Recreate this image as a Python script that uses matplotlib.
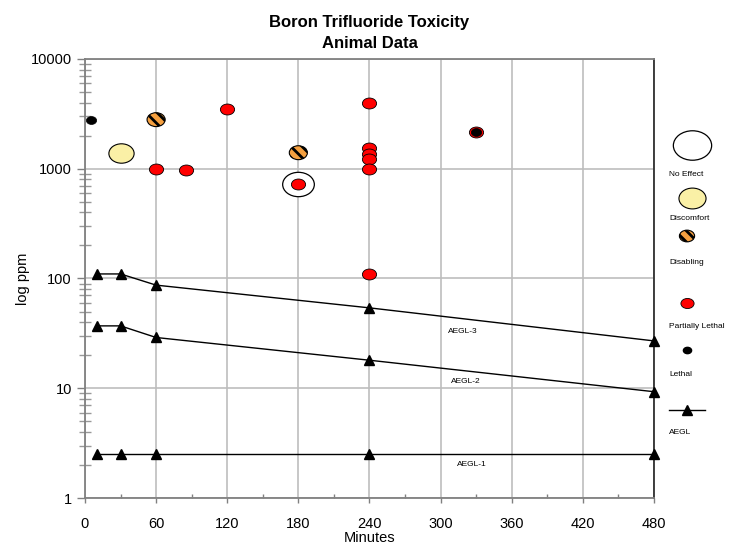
import matplotlib

matplotlib.use("Agg")
import matplotlib.pyplot as plt
import matplotlib.ticker as mticker
from matplotlib.path import Path
from matplotlib.transforms import Affine2D

plt.rcParams["font.family"] = ["Liberation Sans", "DejaVu Sans"]
plt.rcParams["hatch.linewidth"] = 2.0

# --- data --------------------------------------------------------------------
no_effect_min = [180]
no_effect_ppm = [730]
discomfort_min = [30]
discomfort_ppm = [1400]
disabling_min = [60, 180]
disabling_ppm = [2800, 1400]
partial_min = [60, 85, 120, 180, 240, 240, 240, 240, 240, 240, 330]
partial_ppm = [1000, 970, 3500, 730, 3950, 1560, 1350, 1220, 1000, 110, 2150]
lethal_min = [5, 330]
lethal_ppm = [2800, 2150]

aegl_min = [10, 30, 60, 240, 480]
aegl1 = [2.5, 2.5, 2.5, 2.5, 2.5]
aegl2 = [37, 37, 29, 18, 9.3]
aegl3 = [110, 110, 87, 54, 27]

x_ticks = [0, 60, 120, 180, 240, 300, 360, 420, 480]
y_ticks = [1, 10, 100, 1000, 10000]

YELLOW = "#FAF0A6"
ORANGE = "#F5A040"
RED = "#FF0000"
GRID = "#BDBDBD"

# wide ellipse marker, like the original charting tool
ELLIPSE = Path.unit_circle().transformed(Affine2D().scale(1.3, 1.0))


def draw_groups(ax, scale=1.0):
    ax.scatter(no_effect_min, no_effect_ppm, s=520 * scale, marker=ELLIPSE,
               facecolor="white", edgecolor="black", linewidth=0.9, zorder=3)
    ax.scatter(discomfort_min, discomfort_ppm, s=330 * scale, marker=ELLIPSE,
               facecolor=YELLOW, edgecolor="black", linewidth=0.8, zorder=3)
    ax.scatter(disabling_min, disabling_ppm, s=170 * scale, marker=ELLIPSE,
               facecolor=ORANGE, edgecolor="black", hatch="\\\\\\",
               linewidth=0.8, zorder=4)
    ax.scatter(partial_min, partial_ppm, s=105 * scale, marker=ELLIPSE,
               facecolor=RED, edgecolor="black", linewidth=0.6, zorder=5)
    ax.scatter(lethal_min, lethal_ppm, s=55 * scale, marker=ELLIPSE,
               facecolor="black", edgecolor="black", linewidth=0.5, zorder=6)


fig = plt.figure(figsize=(7.32, 5.46), dpi=100)
ax = fig.add_axes([0.1161, 0.0879, 0.7773, 0.8041])

for series in (aegl1, aegl2, aegl3):
    ax.plot(aegl_min, series, color="black", linewidth=1.0, marker="^",
            markersize=7.5, zorder=4, clip_on=False)
draw_groups(ax)

for x, y, s in ((319, 33, "AEGL-3"), (321, 11.5, "AEGL-2"), (326, 2.0, "AEGL-1")):
    ax.text(x, y, s, fontsize=6, ha="center", va="center", zorder=3,
            bbox=dict(facecolor="white", edgecolor="none", pad=1.5))

ax.set_yscale("log")
ax.set_xlim(0, 480)
ax.set_ylim(1, 10000)
ax.set_xticks(x_ticks)
ax.set_yticks(y_ticks)
ax.xaxis.set_minor_locator(mticker.MultipleLocator(30))
ax.yaxis.set_major_formatter(mticker.FuncFormatter(lambda v, _: f"{v:g}"))
ax.yaxis.set_minor_locator(mticker.LogLocator(base=10, subs=range(2, 10)))
ax.yaxis.set_minor_formatter(mticker.NullFormatter())

ax.tick_params(axis="x", which="major", direction="out", length=3.6, width=1,
               color="#808080", labelsize=10.5, pad=10)
ax.tick_params(axis="x", which="minor", direction="in", length=3, width=1,
               color="#808080")
ax.tick_params(axis="y", which="major", direction="out", length=6, width=1,
               color="#808080", labelsize=10.5, pad=3.5)
ax.tick_params(axis="y", which="minor", direction="inout", length=8, width=1,
               color="#999999")

ax.grid(True, which="major", color=GRID, linewidth=1.2)
ax.set_axisbelow(True)
for side in ("left", "bottom", "top"):
    ax.spines[side].set_color("#808080")
    ax.spines[side].set_linewidth(1.3)
ax.spines["right"].set_color("#303030")
ax.spines["right"].set_linewidth(1.3)

ax.set_xlabel("Minutes", fontsize=10.5, labelpad=0)
ax.set_ylabel("log ppm", fontsize=10.5)
ax.yaxis.set_label_coords(-0.097, 0.5)
ax.set_title("Boron Trifluoride Toxicity\nAnimal Data", fontsize=12,
             fontweight="bold", pad=8, linespacing=1.45)

# --- legend column on the right (pixel coordinates) ---------------------------
lg = fig.add_axes([655 / 732, 0, 77 / 732, 1])
lg.set_xlim(655, 732)
lg.set_ylim(546, 0)
lg.axis("off")
mx, tx = 692, 669
lg.scatter([mx], [145], s=760, marker=ELLIPSE, facecolor="white",
           edgecolor="black", linewidth=0.9)
lg.scatter([mx], [198], s=380, marker=ELLIPSE, facecolor=YELLOW,
           edgecolor="black", linewidth=0.8)
lg.scatter([mx - 5], [236], s=120, marker=ELLIPSE, facecolor=ORANGE,
           edgecolor="black", hatch="\\\\\\", linewidth=0.8)
lg.scatter([mx - 5], [303], s=90, marker=ELLIPSE, facecolor=RED,
           edgecolor="black", linewidth=0.6)
lg.scatter([mx - 5], [350], s=35, marker=ELLIPSE, facecolor="black",
           edgecolor="black")
lg.plot([669, 705], [410, 410], color="black", linewidth=1.0)
lg.plot([687], [410], color="black", marker="^", markersize=7.5)
for y, s in ((174, "No Effect"), (218, "Discomfort"), (263, "Disabling"),
             (326, "Partially Lethal"), (375, "Lethal"), (432, "AEGL")):
    lg.text(tx, y, s, fontsize=6, ha="left", va="center")

fig.savefig("out.png", dpi=100)
